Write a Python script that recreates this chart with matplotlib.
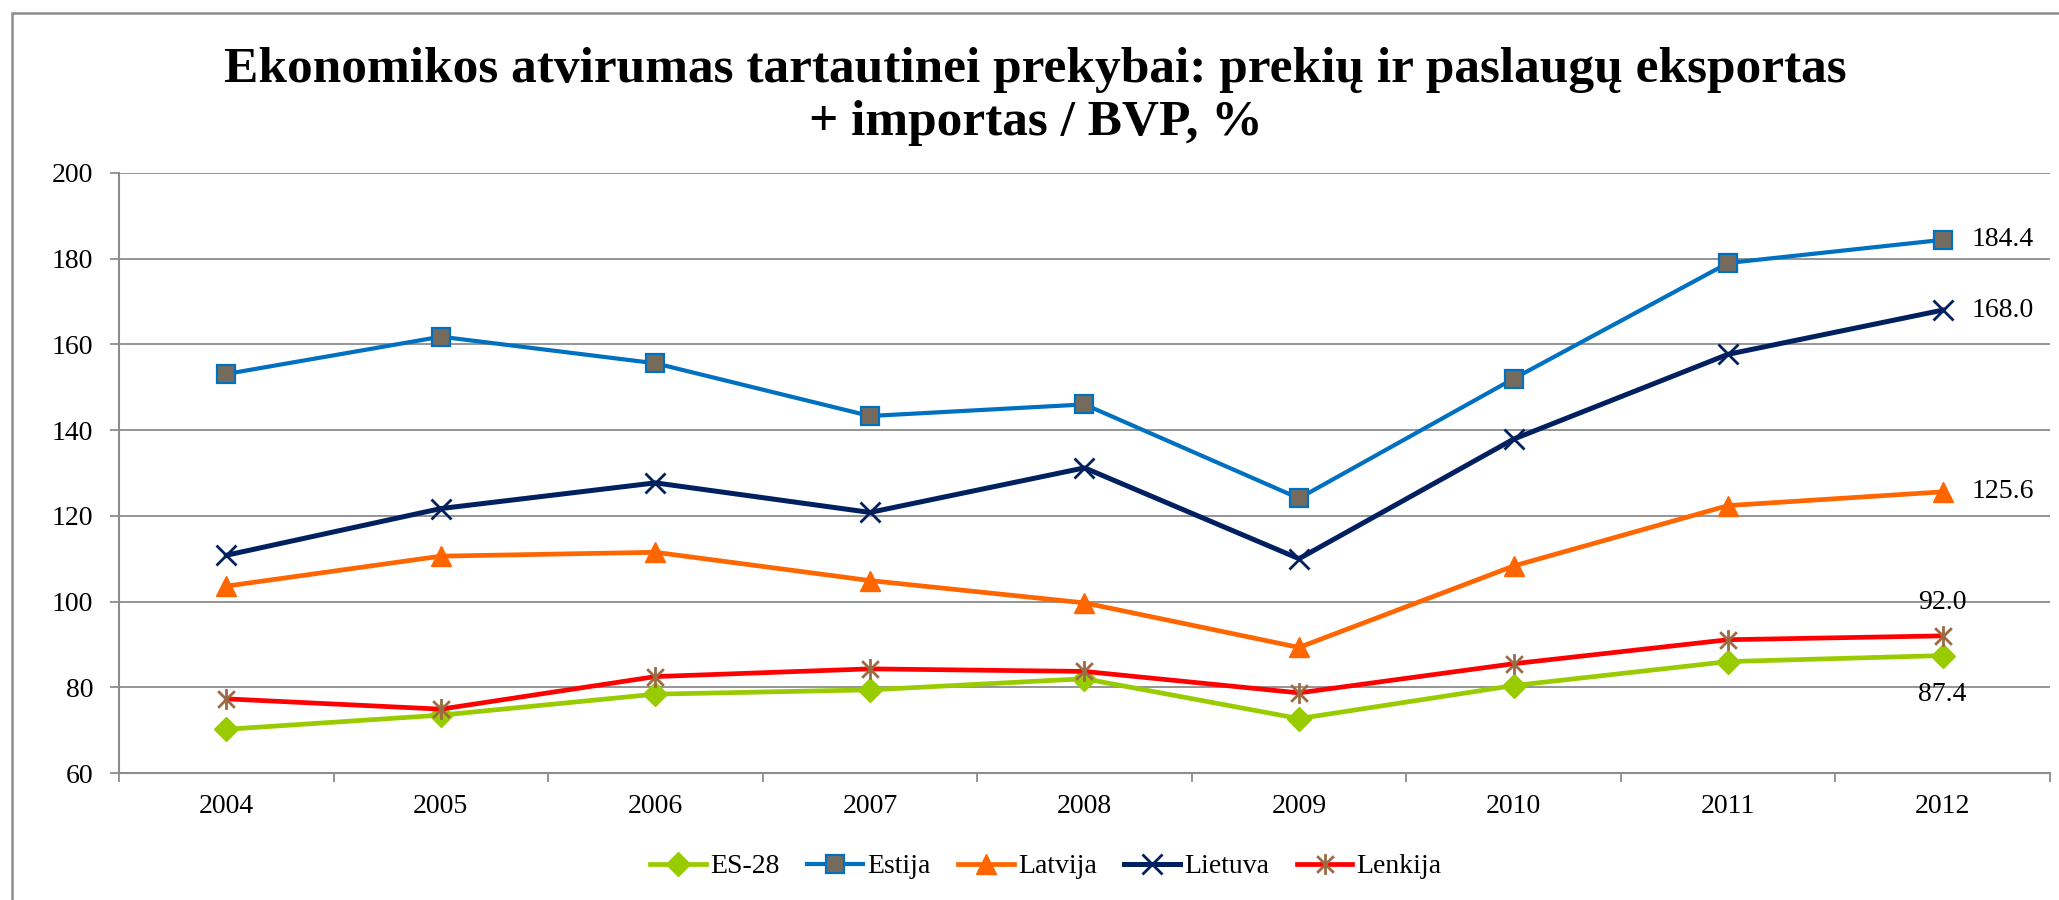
import numpy as np
import matplotlib
matplotlib.use("Agg")
import matplotlib.pyplot as plt
from matplotlib.path import Path
from matplotlib.patches import Rectangle

# ---------------------------------------------------------------------------
# Data: openness to trade, (exports + imports) / GDP, %
# ---------------------------------------------------------------------------
years = ["2004", "2005", "2006", "2007", "2008", "2009", "2010", "2011", "2012"]

es28 = [70.2, 73.5, 78.4, 79.4, 82.0, 72.7, 80.4, 86.0, 87.4]
estija = [153.1, 161.8, 155.6, 143.3, 146.0, 124.1, 152.0, 179.0, 184.4]
latvija = [103.6, 110.6, 111.5, 104.9, 99.7, 89.3, 108.3, 122.4, 125.6]
lietuva = [110.8, 121.7, 127.7, 120.8, 131.2, 110.0, 137.9, 157.7, 168.0]
lenkija = [77.3, 74.9, 82.5, 84.3, 83.7, 78.7, 85.5, 91.1, 92.0]

title = "Ekonomikos atvirumas tartautinei prekybai: prekių ir paslaugų eksportas\n+ importas / BVP, %"

plt.rcParams['font.family'] = ['Liberation Serif', 'DejaVu Serif']

GRID = "#8c8c8c"

# Excel-style star marker: an X with a vertical bar through it
star = Path([(-1, -1), (1, 1), (-1, 1), (1, -1), (0, -1.25), (0, 1.25)],
            [Path.MOVETO, Path.LINETO] * 3)

fig = plt.figure(figsize=(20.59, 9), dpi=100)
ax = fig.add_axes([0.0578, 0.1411, 0.9378, 0.6667])

x = np.arange(len(years))

ax.plot(x, es28, color="#99cc00", lw=3.4, marker="D", ms=12.5,
        mfc="#99cc00", mec="#99cc00", label="ES-28", zorder=3)
ax.plot(x, estija, color="#0070c0", lw=3.0, marker="s", ms=13,
        mfc="#756b5c", mec="#0070c0", mew=1.6, label="Estija", zorder=3)
ax.plot(x, latvija, color="#ff6600", lw=3.4, marker="^", ms=15,
        mfc="#ff6600", mec="#ff6600", label="Latvija", zorder=3)
ax.plot(x, lietuva, color="#002060", lw=3.6, marker="x", ms=14,
        mec="#002060", mew=2.0, label="Lietuva", zorder=3)
ax.plot(x, lenkija, color="#ff0000", lw=3.4, marker=star, ms=15,
        mec="#9c6b43", mfc="none", mew=2.0, label="Lenkija", zorder=3)

# end-of-series value labels
last = len(years) - 1
for vals in (estija, lietuva, latvija):
    ax.annotate(f"{vals[last]:.1f}", (x[last], vals[last]), xytext=(21, 0),
                textcoords="offset points", ha="left", va="center", fontsize=20)
ax.annotate(f"{lenkija[last]:.1f}", (x[last], lenkija[last]), xytext=(0, 24),
            textcoords="offset points", ha="center", va="center", fontsize=20)
ax.annotate(f"{es28[last]:.1f}", (x[last], es28[last]), xytext=(0, -28),
            textcoords="offset points", ha="center", va="center", fontsize=20)

# axes
ax.set_xlim(-0.5, len(years) - 0.5)
ax.set_ylim(60, 200)
ax.set_yticks(np.arange(60, 201, 20))
ax.yaxis.grid(True, color=GRID, lw=1.3)
ax.set_axisbelow(True)

ax.set_xticks(np.arange(-0.5, len(years), 1.0))
ax.set_xticklabels([])
ax.set_xticks(x, minor=True)
ax.set_xticklabels(years, minor=True)
ax.tick_params(axis="x", which="major", length=6.5, width=1.3, color=GRID)
ax.tick_params(axis="x", which="minor", length=0, pad=15, labelsize=20)
ax.tick_params(axis="y", length=6.5, width=1.3, color=GRID, pad=12, labelsize=20)

for side in ("top", "right"):
    ax.spines[side].set_visible(False)
for side in ("left", "bottom"):
    ax.spines[side].set_color(GRID)
    ax.spines[side].set_linewidth(1.5)

fig.text(0.503, 0.893, title, ha="center", va="center", fontsize=37,
         fontweight="bold", linespacing=1.2)

fig.legend(loc="center", bbox_to_anchor=(0.508, 0.037), ncol=5, frameon=False,
           fontsize=20, handlelength=2.0, handletextpad=0.15, columnspacing=1.0)

# outer chart border
fig.patches.append(Rectangle((12 / 2059, -0.05), 1.1, 1.05 - 13 / 900,
                             transform=fig.transFigure, fill=False,
                             edgecolor=GRID, lw=1.8))

fig.savefig("out.png", dpi=100)
